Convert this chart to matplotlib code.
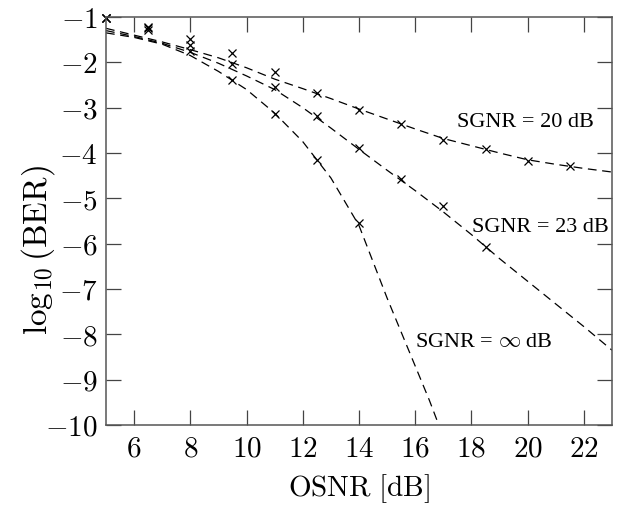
import matplotlib
matplotlib.use("Agg")
import matplotlib.pyplot as plt
import numpy as np

plt.rcParams['mathtext.fontset'] = 'cm'

# Measured points (markers)
x_meas = [5, 6.5, 8, 9.5, 11, 12.5, 14, 15.5, 17, 18.5, 20, 21.5]
y_meas_20 = [-1.03, -1.21, -1.49, -1.80, -2.22, -2.68, -3.05, -3.36, -3.72, -3.91, -4.18, -4.28]
y_meas_23 = [-1.03, -1.25, -1.62, -2.04, -2.55, -3.19, -3.90, -4.58, -5.16, -6.07]
y_meas_inf = [-1.03, -1.29, -1.74, -2.38, -3.14, -4.16, -5.55]

# Theory curves (dashed)
x_th = [5, 6, 7, 8, 9, 10, 11, 12, 13, 14, 15, 16, 17, 18, 19, 20, 21, 22, 23]
y_th_20 = [-1.25, -1.40, -1.55, -1.72, -1.90, -2.12, -2.37, -2.58, -2.80, -3.03,
           -3.25, -3.47, -3.68, -3.84, -4.00, -4.15, -4.25, -4.34, -4.42]
y_th_23 = [-1.30, -1.43, -1.58, -1.78, -2.02, -2.30, -2.60, -3.00, -3.45, -3.92,
           -4.38, -4.83, -5.30, -5.80, -6.33, -6.83, -7.33, -7.83, -8.35]
x_th_inf = [5, 6, 7, 8, 9, 10, 11, 12, 13, 14, 14.5, 15, 15.5, 16, 16.5, 16.9]
y_th_inf = [-1.35, -1.45, -1.60, -1.85, -2.20, -2.60, -3.12, -3.75, -4.55, -5.60,
            -6.40, -7.20, -7.95, -8.70, -9.45, -10.1]

x_ticks = [6, 8, 10, 12, 14, 16, 18, 20, 22]
y_ticks = [-1, -2, -3, -4, -5, -6, -7, -8, -9, -10]

fig = plt.figure(figsize=(6.18, 5.08), dpi=100)
ax = fig.add_axes([106/618, 1-425/508, (612-106)/618, (425-17)/508])

dash = dict(color='black', lw=0.9, ls=(0, (7, 4.5)))
ax.plot(x_th, y_th_20, **dash)
ax.plot(x_th, y_th_23, **dash)
ax.plot(x_th_inf, y_th_inf, **dash)

mk = dict(ls='none', marker='x', color='black', ms=6, mew=0.9, clip_on=False)
ax.plot(x_meas, y_meas_20, **mk)
ax.plot(x_meas[:len(y_meas_23)], y_meas_23, **mk)
ax.plot(x_meas[:len(y_meas_inf)], y_meas_inf, **mk)

ax.set_xlim(5, 23)
ax.set_ylim(-10, -1)
ax.set_xticks(x_ticks)
ax.set_yticks(y_ticks)
ax.set_xticklabels([f'${t}$' for t in x_ticks])
ax.set_yticklabels([f'${t}$' for t in y_ticks])
ax.tick_params(direction='in', length=11, width=0.9, color='#444444',
               top=True, right=True, labelsize=21, pad=7)
ax.tick_params(axis='y', pad=6)
for s in ax.spines.values():
    s.set_color('#555555')
    s.set_linewidth(1.1)

ax.set_xlabel(r'$\mathrm{OSNR\ [dB]}$', fontsize=21, labelpad=7)
ax.set_ylabel(r'$\log_{10}(\mathrm{BER})$', fontsize=24, va='center')
ax.yaxis.set_label_coords((38 - 106) / 506, (425 - 250) / 408)

tf = dict(fontsize=16, family='Liberation Serif', va='baseline', ha='left')
ax.text(17.48, -3.43, 'SGNR = 20 dB', **tf)
ax.text(18.01, -5.74, 'SGNR = 23 dB', **tf)
ax.text(16.0, -8.28, r'SGNR = $\infty$ dB', **tf)

fig.savefig('out.png', dpi=100)
